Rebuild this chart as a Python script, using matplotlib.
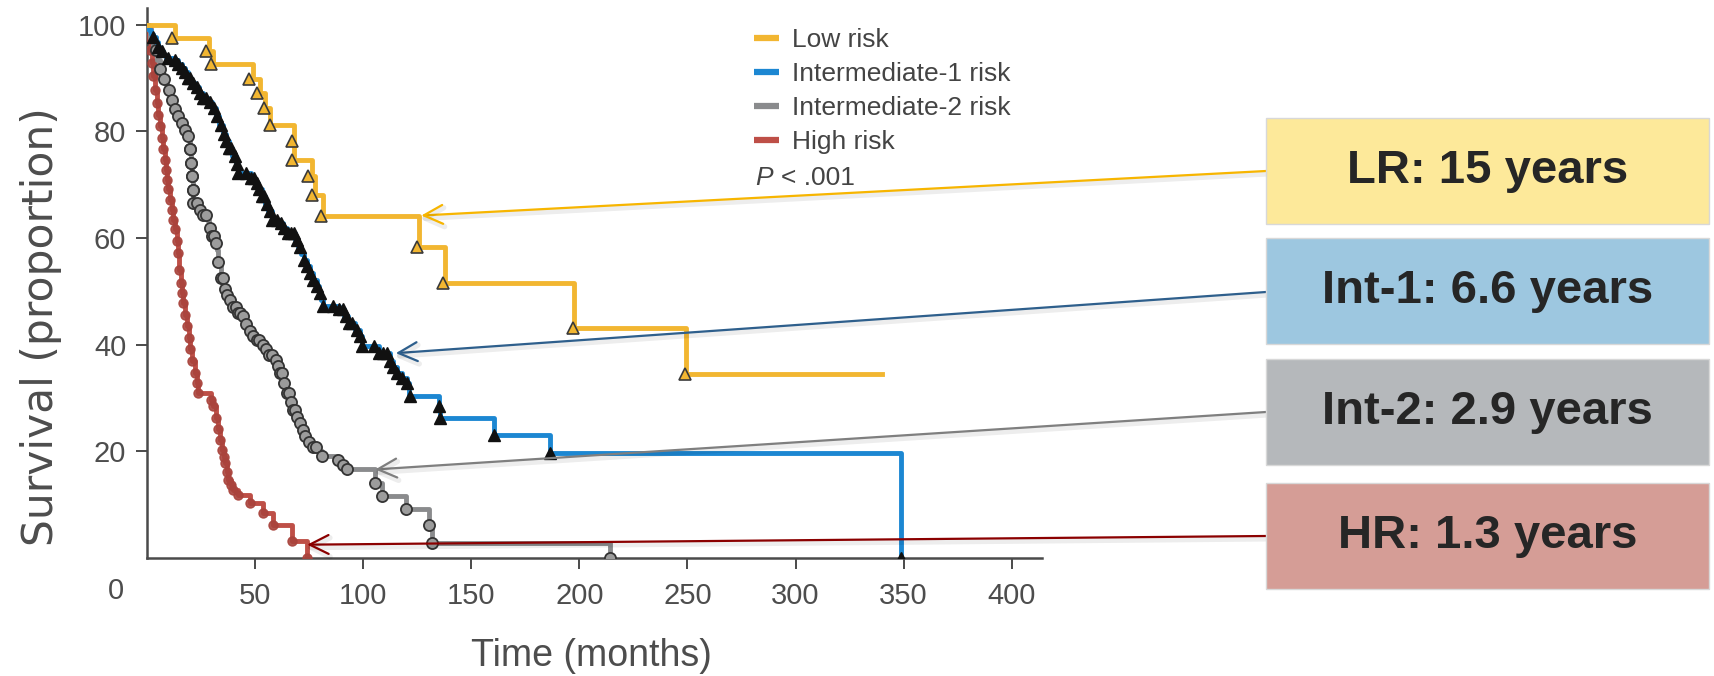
import numpy as np
import matplotlib
matplotlib.use("Agg")
import matplotlib.pyplot as plt
import matplotlib.patheffects as pe
from matplotlib.lines import Line2D
from matplotlib.patches import Rectangle

# ---- data (time in months, survival in %) ----
low_t = [0, 13.0, 28.5, 30.4, 49.2, 52.3, 54.6, 56.9, 68.0, 76.2, 77.8, 81.6,
         125.6, 137.9, 197.6, 249.5]
low_s = [100, 97.5, 95.0, 92.6, 89.7, 87.1, 84.4, 81.2, 74.7, 71.6, 68.1, 64.1,
         58.3, 51.6, 43.1, 34.5]
low_end = 340
low_mark_t = [11.7, 27.2, 29.6, 47.2, 50.7, 53.9, 56.9, 67.3, 67.3, 74.7, 76.2,
              80.4, 125.0, 137.0, 197.0, 249.0]
low_mark_s = [97.5, 95.0, 92.6, 89.7, 87.1, 84.4, 81.2, 78.1, 74.7, 71.6, 68.1,
              64.1, 58.3, 51.6, 43.1, 34.5]

int1_t = [0, 1.0, 2.0, 3.0, 4.0, 5.0, 6.0, 7.5, 9.0, 13.0, 14.5, 16.0, 17.5, 19.0,
          20.5, 22.0, 24.0, 26.0, 28.0, 30.0, 32.0, 33.5, 35.0, 36.5, 38.0, 39.5,
          41.0, 42.3, 48.0, 50.0, 51.5, 53.0, 54.5, 56.0, 57.7, 61.6, 63.0, 64.7,
          68.5, 70.0, 71.2, 72.4, 73.9, 75.5, 77.0, 78.5, 79.5, 80.5, 81.6, 88.6,
          91.0, 93.2, 96.0, 98.6, 99.4, 107.1, 112.5, 114.0, 115.6, 118.0, 120.2,
          121.0, 134.9, 135.6, 160.3, 186.4, 349.0]
int1_s = [100, 99.0, 98.3, 97.6, 96.8, 95.8, 95.0, 94.3, 93.8, 93.4, 92.6, 91.9,
          91.1, 90.0, 89.0, 88.2, 87.2, 86.3, 85.4, 84.4, 82.8, 81.2, 79.5, 78.2,
          76.9, 75.4, 73.8, 72.2, 71.2, 70.3, 69.1, 67.9, 66.4, 65.0, 63.4, 62.8,
          61.8, 60.9, 59.7, 58.3, 57.0, 55.9, 54.7, 53.4, 52.1, 50.9, 49.6, 48.4,
          47.2, 46.6, 45.4, 44.1, 42.8, 41.6, 39.7, 38.4, 36.9, 35.8, 34.7, 33.8,
          32.8, 30.3, 28.4, 26.3, 23.1, 19.7, 0.0]
int1_mark_t = [3, 5, 7, 9.5, 13, 14.5, 16, 17.5, 19, 20, 21.5, 23, 24.5, 26, 27.5,
               29, 31, 32.5, 34, 35.5, 36.5, 38, 39, 40.5, 41.5, 42.3, 46, 48,
               49.5, 51, 52, 53, 54, 55.5, 57, 58, 60, 62, 63.5, 65, 66.5, 68,
               69.5, 71, 72.4, 74, 75.5, 77, 78.5, 80, 81.6, 86, 88.6, 90.5, 92,
               93.5, 95, 97, 98.6, 99.4, 105, 107.1, 109, 111, 112.5, 114, 115.6,
               118, 120.2, 121.5, 134.9, 135.6, 160.3, 186.4, 349]

int2_t = [0, 0.6, 1.5, 2.9, 4.5, 6.0, 7.5, 9.1, 10.6, 12.2, 13.8, 15.3, 17.0, 18.4,
          19.9, 20.3, 20.7, 21.1, 21.5, 23.8, 25.5, 27.6, 28.8, 29.9, 31.1, 32.3,
          33.0, 34.0, 35.5, 37.0, 38.4, 40.0, 41.5, 43.1, 44.6, 46.1, 48.5, 50.8,
          52.7, 54.6, 56.5, 58.5, 60.0, 61.6, 63.2, 64.7, 66.2, 67.7, 69.3, 70.8,
          72.0, 73.1, 75.0, 77.0, 78.9, 80.9, 87.8, 89.4, 92.5, 105.6, 108.7,
          120.0, 130.3, 131.8, 214.4]
int2_s = [100, 99.1, 97.5, 95.3, 93.4, 91.6, 89.7, 87.8, 85.9, 84.1, 82.8, 81.6,
          80.3, 79.1, 76.6, 74.0, 71.6, 69.0, 66.6, 65.3, 64.3, 63.4, 61.8, 60.3,
          59.0, 57.8, 55.5, 52.5, 50.5, 49.3, 48.4, 47.0, 46.0, 45.3, 43.8, 42.5,
          41.6, 40.9, 40.0, 39.1, 38.1, 37.2, 36.0, 34.7, 32.8, 30.9, 29.3, 27.8,
          26.5, 25.3, 24.0, 22.8, 21.8, 20.9, 20.0, 19.1, 18.3, 17.5, 16.6, 14.1,
          11.6, 9.2, 6.1, 2.8, 0.0]
int2_mark_t = [4, 6, 8, 10, 11.5, 13, 14.5, 16, 17.5, 19, 19.9, 20.1, 20.3, 20.5,
               20.7, 20.9, 21.1, 21.3, 21.5, 23, 24.5, 26, 27.5, 29, 30, 31, 32,
               33, 34, 35, 36, 37, 38.5, 40, 41, 42, 43, 44.5, 46, 47.5, 49, 50.8,
               52, 53.5, 55, 56.5, 58, 59.5, 60.5, 61.6, 62.5, 63.5, 64.7, 65.5,
               66.5, 67.7, 68.5, 69.5, 70.8, 72, 73.1, 75, 77, 78, 80.9, 88.5,
               90.5, 92.5, 105.6, 108.7, 120, 130.3, 131.8, 214.4]

high_t = [0, 0.6, 1.0, 1.4, 2.1, 2.9, 3.7, 4.5, 5.2, 6.0, 6.8, 7.6, 8.2, 8.8, 9.4,
          9.9, 10.7, 11.4, 12.2, 12.9, 13.7, 14.3, 15.0, 15.6, 16.2, 16.8, 17.6,
          18.4, 19.2, 19.9, 21.0, 22.2, 23.0, 23.8, 29.5, 30.7, 31.8, 33.0, 33.8,
          34.6, 35.4, 36.1, 36.9, 37.6, 38.8, 40.0, 42.3, 47.7, 53.5, 58.5, 67.0,
          73.9]
high_s = [100, 99.4, 97.4, 95.3, 92.8, 90.3, 87.8, 85.3, 83.1, 80.9, 78.7, 76.6,
          74.7, 72.8, 70.9, 69.1, 67.2, 65.3, 63.4, 61.6, 59.4, 57.2, 54.0, 51.6,
          49.7, 47.8, 45.6, 43.4, 41.2, 39.1, 36.9, 34.7, 32.8, 30.9, 29.6, 28.4,
          26.2, 24.1, 22.2, 20.3, 19.0, 17.8, 16.2, 14.7, 13.7, 12.8, 11.9, 10.3,
          8.4, 6.2, 3.1, 0.0]

labels = ["Low risk", "Intermediate-1 risk", "Intermediate-2 risk", "High risk"]
box_texts = ["LR: 15 years", "Int-1: 6.6 years", "Int-2: 2.9 years", "HR: 1.3 years"]
# points on each curve the call-out arrows point at
arrow_t = [126.9, 115.1, 105.6, 74.1]
arrow_s = [64.2, 38.4, 16.6, 2.5]

c_low, c_int1, c_int2, c_high = "#F2B631", "#1C87D2", "#8A8B8D", "#BE4F47"
box_colors = ["#FDE99A", "#9DC7E0", "#B5B8BB", "#D59D96"]
arrow_colors = ["#F7B500", "#2E5F8C", "#7F7F7F", "#8B0000"]

W, H = 1714, 676
fx = lambda px: px / W
fy = lambda py: 1 - py / H

fig = plt.figure(figsize=(W / 100, H / 100), dpi=100)
ax = fig.add_axes([fx(147), fy(558), fx(1042) - fx(147), fy(8) - fy(558)])


def step_value(t_list, s_list, t):
    i = np.searchsorted(np.asarray(t_list), t, side="right") - 1
    return np.asarray(s_list)[i]


# high risk
ax.plot(high_t, high_s, drawstyle="steps-post", color=c_high, lw=3.5, zorder=2)
ax.plot(high_t[1:], high_s[1:], ls="none", marker="o", ms=6.5,
        mfc="#A9433C", mec="#A9433C", alpha=0.9, zorder=3)

# intermediate-2
ax.plot(int2_t, int2_s, drawstyle="steps-post", color=c_int2, lw=3.5, zorder=4)
ax.plot(int2_mark_t, step_value(int2_t, int2_s, int2_mark_t), ls="none",
        marker="o", ms=8, mfc="#9C9C9C", mec="#333333", mew=1.3, zorder=5)

# intermediate-1
ax.plot(int1_t, int1_s, drawstyle="steps-post", color=c_int1, lw=3.5, zorder=6)
ax.plot(int1_mark_t, step_value(int1_t, int1_s, int1_mark_t), ls="none",
        marker="^", ms=8.5, mfc="#111111", mec="#111111", zorder=7)

# low risk
ax.plot(low_t + [low_end], low_s + [low_s[-1]], drawstyle="steps-post",
        color=c_low, lw=3.5, zorder=8)
ax.plot(low_mark_t, low_mark_s, ls="none", marker="^", ms=8.5,
        mfc=c_low, mec="#3a3a3a", mew=1.2, zorder=9)

ax.set_xlim(0, 414)
ax.set_ylim(0, 103.1)
ax.set_xticks([50, 100, 150, 200, 250, 300, 350, 400])
ax.set_yticks([20, 40, 60, 80, 100])
for sp in ["top", "right"]:
    ax.spines[sp].set_visible(False)
for sp in ["left", "bottom"]:
    ax.spines[sp].set_color("#4a4a4a")
    ax.spines[sp].set_linewidth(1.8)
ax.tick_params(axis="both", direction="out", length=8, width=1.4,
               color="#4a4a4a", labelcolor="#4d4d4d", labelsize=21)
ax.tick_params(axis="x", pad=9)
ax.tick_params(axis="y", pad=7)
for lab in ax.get_xticklabels() + ax.get_yticklabels():
    lab.set_fontfamily(["Liberation Sans", "DejaVu Sans"])

fig.text(fx(116), fy(591), "0", ha="center", va="center", fontsize=21,
         color="#4d4d4d", family=["Liberation Sans", "DejaVu Sans"])
fig.text(fx(41), fy(327), "Survival (proportion)", rotation=90, ha="center",
         va="center", fontsize=30.5, color="#4d4d4d", family=["DejaVu Sans"])
fig.text(fx(591), fy(656), "Time (months)", ha="center", va="center",
         fontsize=27, color="#4d4d4d", family=["Liberation Sans", "DejaVu Sans"])

# legend
handles = [Line2D([], [], color=c, lw=4.5, solid_capstyle="butt")
           for c in [c_low, c_int1, c_int2, c_high]]
fig.legend(handles, labels, loc="upper left", bbox_to_anchor=(fx(754), fy(28)),
           frameon=False, handlelength=0.95, handletextpad=0.5,
           labelspacing=0.38, borderpad=0, borderaxespad=0,
           labelcolor="#444444", prop={"family": ["Liberation Sans", "DejaVu Sans"], "size": 19})
fig.text(fx(755), fy(178), "P", ha="left", va="center", fontsize=19,
         style="italic", color="#444444", family=["Liberation Sans", "DejaVu Sans"])
fig.text(fx(781), fy(178), "< .001", ha="left", va="center", fontsize=19,
         color="#444444", family=["Liberation Sans", "DejaVu Sans"])

# call-out boxes
box_top = [118, 238, 359, 483]
box_h = 106
box_left, box_right = 1266, 1709
arrow_tail_y = [171, 292, 412, 536]
for i in range(4):
    y0 = box_top[i] + box_h
    fig.add_artist(Rectangle((fx(box_left), fy(y0)), fx(box_right) - fx(box_left),
                             box_h / H, transform=fig.transFigure,
                             facecolor=box_colors[i], edgecolor="#d8d8d8", lw=1))
    fig.text(fx((box_left + box_right) / 2), fy(box_top[i] + box_h / 2),
             box_texts[i], ha="center", va="center", fontsize=34,
             fontweight="bold", color="#262626",
             family=["Liberation Sans", "DejaVu Sans"])
    ax.annotate("", xy=(arrow_t[i], arrow_s[i]), xycoords="data",
                xytext=(fx(box_left), fy(arrow_tail_y[i])),
                textcoords="figure fraction", annotation_clip=False,
                arrowprops=dict(arrowstyle="->,head_length=0.4,head_width=0.2",
                                color=arrow_colors[i], lw=1.6, shrinkA=0, shrinkB=0,
                                mutation_scale=34,
                                path_effects=[pe.SimpleLineShadow(offset=(1, -2),
                                                                  shadow_color="#000000",
                                                                  alpha=0.07, linewidth=4),
                                              pe.Normal()]),
                zorder=20)

fig.savefig("out.png", dpi=100)
